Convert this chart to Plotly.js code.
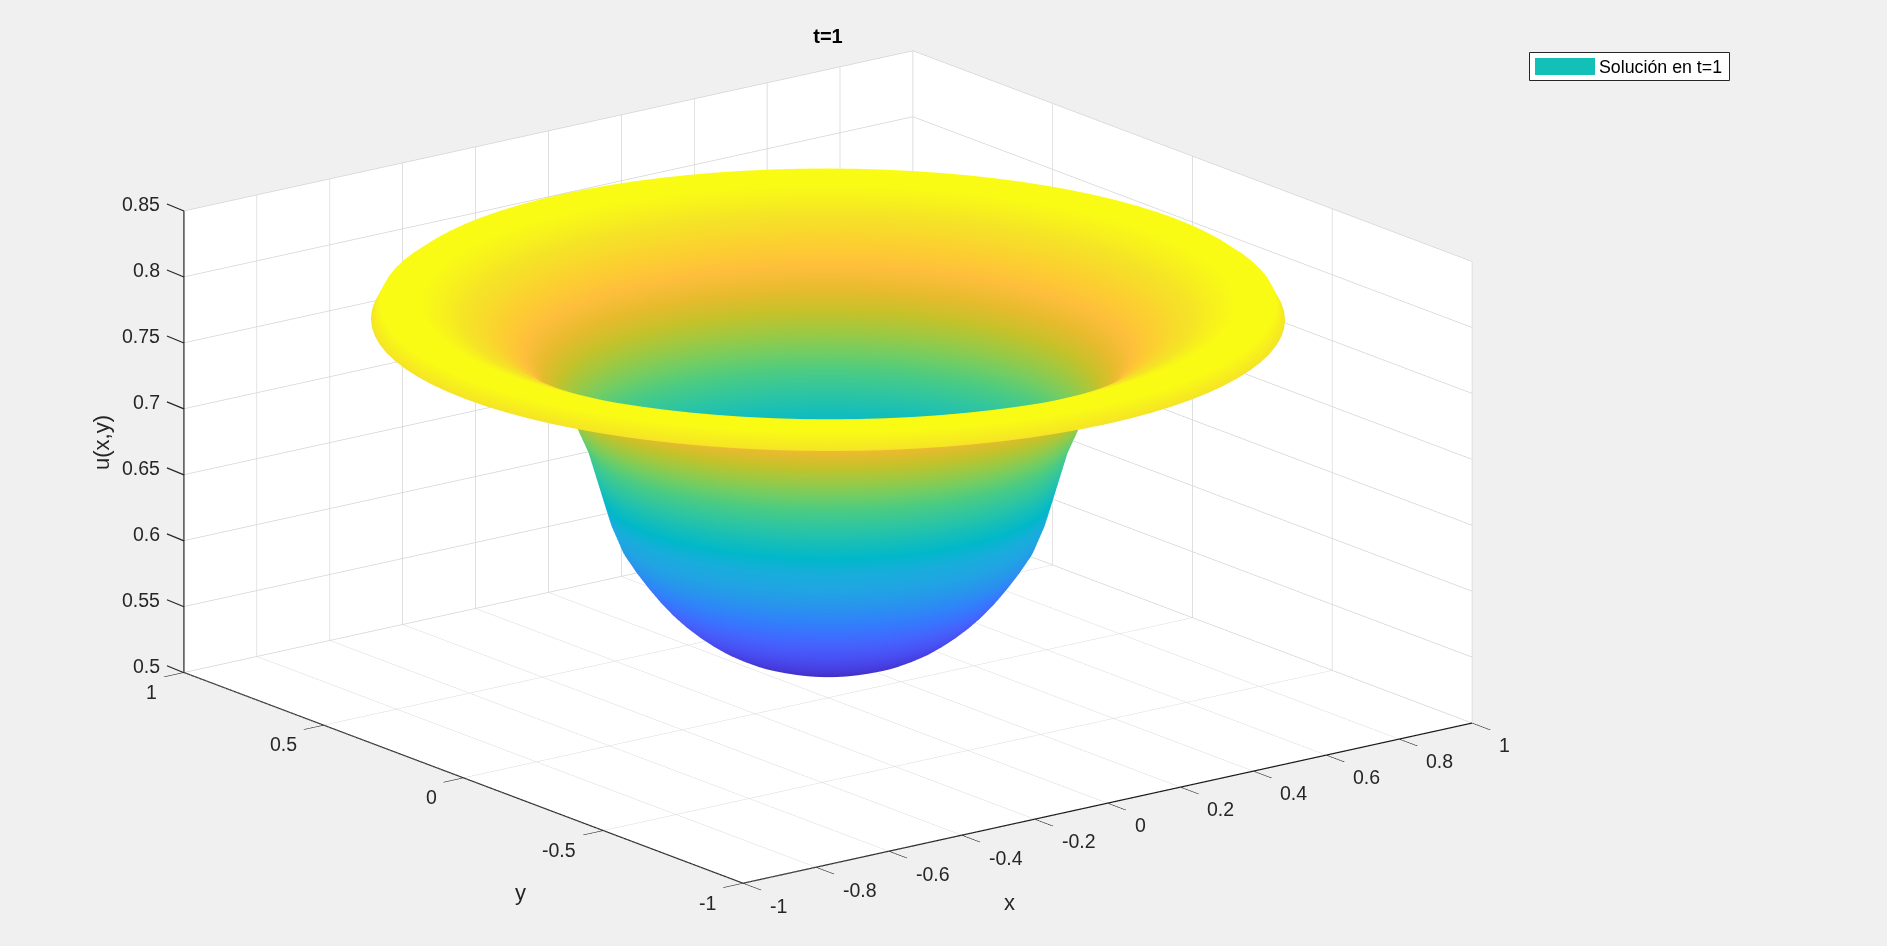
<!DOCTYPE html>
<html>
<head>
<meta charset="utf-8">
<script src="https://cdn.plot.ly/plotly-3.0.1.min.js"></script>
<style>html,body{margin:0;padding:0;background:#f0f0f0}#chart{width:1887px;height:946px}</style>
</head>
<body>
<div id="chart"></div>
<script>
var titleText = "t=1";
var legendText = "Solución en t=1";
var xLabel = "x", yLabel = "y", zLabel = "u(x,y)";

// radial profile
var radius = [0,0.025,0.05,0.075,0.1,0.125,0.15,0.175,0.2,0.225,0.25,0.275,0.3,0.325,0.35,0.375,0.4,0.425,0.45,0.475,0.5,0.525,0.55,0.575,0.6,0.625,0.65,0.675,0.7,0.725,0.75,0.775,0.8,0.825,0.85,0.875,0.9,0.925,0.95,0.975,0.995];
var height = [0.523,0.5232,0.5239,0.525,0.5266,0.5285,0.5307,0.5335,0.5365,0.5405,0.545,0.5505,0.5567,0.5637,0.5717,0.581,0.5915,0.603,0.616,0.636,0.664,0.692,0.711,0.726,0.738,0.748,0.757,0.765,0.771,0.776,0.781,0.785,0.788,0.792,0.795,0.798,0.801,0.804,0.806,0.8,0.787];
var angleDeg = [0,3.75,7.5,11.25,15,18.75,22.5,26.25,30,33.75,37.5,41.25,45,48.75,52.5,56.25,60,63.75,67.5,71.25,75,78.75,82.5,86.25,90,93.75,97.5,101.25,105,108.75,112.5,116.25,120,123.75,127.5,131.25,135,138.75,142.5,146.25,150,153.75,157.5,161.25,165,168.75,172.5,176.25,180,183.75,187.5,191.25,195,198.75,202.5,206.25,210,213.75,217.5,221.25,225,228.75,232.5,236.25,240,243.75,247.5,251.25,255,258.75,262.5,266.25,270,273.75,277.5,281.25,285,288.75,292.5,296.25,300,303.75,307.5,311.25,315,318.75,322.5,326.25,330,333.75,337.5,341.25,345,348.75,352.5,356.25,360];

var xTicks = [-1,-0.8,-0.6,-0.4,-0.2,0,0.2,0.4,0.6,0.8,1];
var yTicks = [-1,-0.5,0,0.5,1];
var zTicks = [0.5,0.55,0.6,0.65,0.7,0.75,0.8,0.85];
var xTickText = ["-1","-0.8","-0.6","-0.4","-0.2","0","0.2","0.4","0.6","0.8","1"];
var yTickText = ["-1","-0.5","0","0.5","1"];
var zTickText = ["0.5","0.55","0.6","0.65","0.7","0.75","0.8","0.85"];

var parula = [[.2422,.1504,.6603],[.2647,.1978,.7952],[.2783,.2559,.8991],[.2810,.3228,.9579],[.2699,.3892,.9906],[.2206,.4603,.9973],[.1786,.5289,.9682],[.1540,.5902,.9218],[.1248,.6459,.8883],[.0952,.6798,.8598],[.0036,.7203,.7917],[.0964,.7500,.7120],[.1938,.7758,.6251],[.2906,.7973,.5188],[.4456,.8024,.3909],[.6174,.7876,.2612],[.7738,.7598,.1646],[.9035,.7330,.1774],[.9956,.7434,.2371],[.9892,.8136,.1885],[.9610,.8890,.1537],[.9769,.9839,.0805]];

var colorscale = parula.map(function(c,i){
  return [i/(parula.length-1), "rgb("+c.map(function(v){return Math.round(v*255);}).join(",")+")"];
});

var X=[],Y=[],Z=[];
radius.forEach(function(r,i){
  var xr=[],yr=[],zr=[];
  angleDeg.forEach(function(a){
    xr.push(r*Math.cos(a*Math.PI/180));
    yr.push(r*Math.sin(a*Math.PI/180));
    zr.push(height[i]);
  });
  X.push(xr);Y.push(yr);Z.push(zr);
});

var FONT = "Liberation Sans, Arial, sans-serif";
var tickFont = {family:FONT,size:19.5,color:"#262626"};
var axisBase = {
  showbackground:true, backgroundcolor:"#ffffff",
  showgrid:true, gridcolor:"#d4d4d4", gridwidth:1.5,
  zeroline:false, showline:true, linecolor:"#1a1a1a", linewidth:2.5,
  ticks:"outside", ticklen:24, tickcolor:"#1a1a1a", tickwidth:2,
  showticklabels:false,
  showspikes:false
};
function ax(o){return Object.assign({},axisBase,o);}
function label(t,px,py,angle,size,color){
  return {text:t,xref:"paper",yref:"paper",x:px/1887,y:1-py/946,xanchor:"center",yanchor:"middle",showarrow:false,textangle:angle||0,
    font:{family:FONT,size:size,color:color}};
}

// tick labels placed at their data positions on the axes
var sceneNotes = [];
xTicks.forEach(function(v,i){
  sceneNotes.push({x:v,y:-1,z:0.5,text:xTickText[i],showarrow:false,xanchor:"left",yanchor:"middle",xshift:25,yshift:-22,font:tickFont});
});
yTicks.forEach(function(v,i){
  sceneNotes.push({x:-1,y:v,z:0.5,text:yTickText[i],showarrow:false,xanchor:"right",yanchor:"middle",xshift:-25,yshift:-19,font:tickFont});
});
zTicks.forEach(function(v,i){
  sceneNotes.push({x:-1,y:1,z:v,text:zTickText[i],showarrow:true,arrowhead:0,arrowwidth:1.2,arrowcolor:"#262626",standoff:0,
    ax:-17,ay:-7,xanchor:"right",yanchor:"middle",borderpad:6,font:tickFont});
});

var layout = {
  width:1887,height:946,
  paper_bgcolor:"#f0f0f0",
  margin:{l:0,r:0,t:0,b:0},
  showlegend:false,
  title:{text:"<b>"+titleText+"</b>",x:828/1887,xanchor:"center",y:1-36/946,yanchor:"middle",
         font:{family:FONT,size:20,color:"#000000"}},
  scene:{
    domain:{x:[0,0.8776],y:[0.0123,1]},
    aspectmode:"manual",
    aspectratio:{x:1.964,y:1.973,z:1.032},
    camera:{eye:{x:-0.581*1.5,y:-0.761*1.5,z:0.2877*1.5},center:{x:0,y:0,z:0},up:{x:0,y:0,z:1},projection:{type:"orthographic"}},
    xaxis:ax({range:[-1,1],tickvals:xTicks,ticktext:xTickText,ticklen:25,title:{text:""}}),
    yaxis:ax({range:[-1,1],tickvals:yTicks,ticktext:yTickText,ticklen:30,title:{text:""}}),
    zaxis:ax({range:[0.5,0.85001],tickvals:zTicks,ticktext:zTickText,ticks:"",title:{text:""}}),
    annotations:sceneNotes
  },
  shapes:[
    {type:"rect",xref:"paper",yref:"paper",x0:1529.5/1887,x1:1729.5/1887,y0:1-80.5/946,y1:1-52.5/946,fillcolor:"#ffffff",line:{color:"#262626",width:1}},
    {type:"rect",xref:"paper",yref:"paper",x0:1535/1887,x1:1595/1887,y0:1-75/946,y1:1-58/946,fillcolor:"#12c0b8",line:{width:0}}
  ],
  annotations:[
    {text:legendText,xref:"paper",yref:"paper",x:1596.5/1887,y:1-67.5/946,xanchor:"left",yanchor:"middle",showarrow:false,
     font:{family:FONT,size:17.8,color:"#000000"}},
    label(xLabel,1009,902,0,22,"#262626"),
    label(yLabel,520,892,0,22,"#262626"),
    label(zLabel,101,443,-90,22,"#262626")
  ]
};

Plotly.newPlot("chart",[{
  type:"surface",x:X,y:Y,z:Z,surfacecolor:Z,cmin:0.523,cmax:0.8,
  colorscale:colorscale,showscale:false,
  lighting:{ambient:1,diffuse:0,specular:0,fresnel:0,roughness:1},
  hidesurface:false,contours:{x:{show:false},y:{show:false},z:{show:false}}
}],layout,{displayModeBar:false});
</script>
</body>
</html>
